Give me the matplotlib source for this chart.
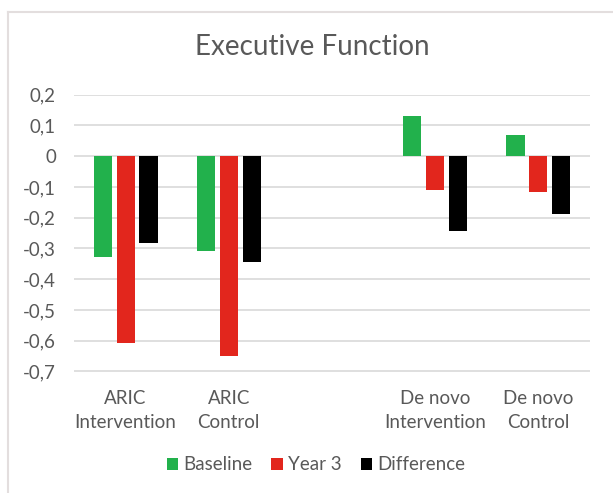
import matplotlib
matplotlib.use("Agg")

import numpy as np
import matplotlib.pyplot as plt
from matplotlib.lines import Line2D

# Values (empty slot between the two groups)
CATEGORIES = ["ARIC\nIntervention", "ARIC\nControl", "",
              "De novo\nIntervention", "De novo\nControl"]
BASELINE   = [-0.327, -0.309, np.nan, 0.132, 0.070]
YEAR3      = [-0.607, -0.648, np.nan, -0.110, -0.116]
DIFFERENCE = [-0.282, -0.344, np.nan, -0.242, -0.187]
SERIES = ["Baseline", "Year 3", "Difference"]
Y_TICKS = [0.2, 0.1, 0, -0.1, -0.2, -0.3, -0.4, -0.5, -0.6, -0.7]

C_GREEN = "#22b14c"
C_RED = "#e2261d"
C_BLACK = "#000000"
C_TEXT = "#595959"
C_GRID = "#d9d9d9"
C_FRAME = "#e3dede"

FONT = ["Lato", "DejaVu Sans"]
plt.rcParams["font.family"] = FONT

fig = plt.figure(figsize=(6.13, 4.93), dpi=100)
fig.patch.set_facecolor("white")

# outer chart frame: only left and top edges are inside the picture
fx, fy = 7.5 / 613, 1 - 12 / 493
fig.add_artist(Line2D([fx, fx], [0, fy], transform=fig.transFigure,
                      color=C_FRAME, linewidth=1.5))
fig.add_artist(Line2D([fx, 1], [fy, fy], transform=fig.transFigure,
                      color=C_FRAME, linewidth=1.5))

ax = fig.add_axes([74 / 613, 1 - 371.5 / 493, 516 / 613, (371.5 - 94.6) / 493])

x = np.arange(len(CATEGORIES))
width = 0.175
step = 0.222
for off, vals, col, lab in zip((-step, 0, step),
                               (BASELINE, YEAR3, DIFFERENCE),
                               (C_GREEN, C_RED, C_BLACK), SERIES):
    ax.bar(x + off, vals, width, color=col, label=lab, zorder=3)

ax.set_xlim(-0.5, len(CATEGORIES) - 0.5)
ax.set_ylim(-0.7, 0.2)
ax.set_yticks(Y_TICKS)
ax.set_yticklabels([("%g" % t).replace(".", ",") for t in Y_TICKS])
ax.set_xticks(x)
ax.set_xticklabels(CATEGORIES, linespacing=1.5)
ax.grid(axis="y", color=C_GRID, linewidth=1.2, zorder=0)
for s in ax.spines.values():
    s.set_visible(False)
ax.tick_params(axis="both", length=0, labelsize=13.5, colors=C_TEXT)
ax.tick_params(axis="y", pad=13)
ax.tick_params(axis="x", pad=13)

fig.text(312 / 613, 1 - 47 / 493, "Executive Function", ha="center",
         va="center", fontsize=20, color=C_TEXT)

fig.legend(loc="center", bbox_to_anchor=(316 / 613, 1 - 465 / 493), ncol=3,
           frameon=False, fontsize=13.5, labelcolor=C_TEXT,
           handlelength=0.6, handleheight=0.6, handletextpad=0.3,
           columnspacing=1.0)

fig.savefig("out.png", dpi=100)
